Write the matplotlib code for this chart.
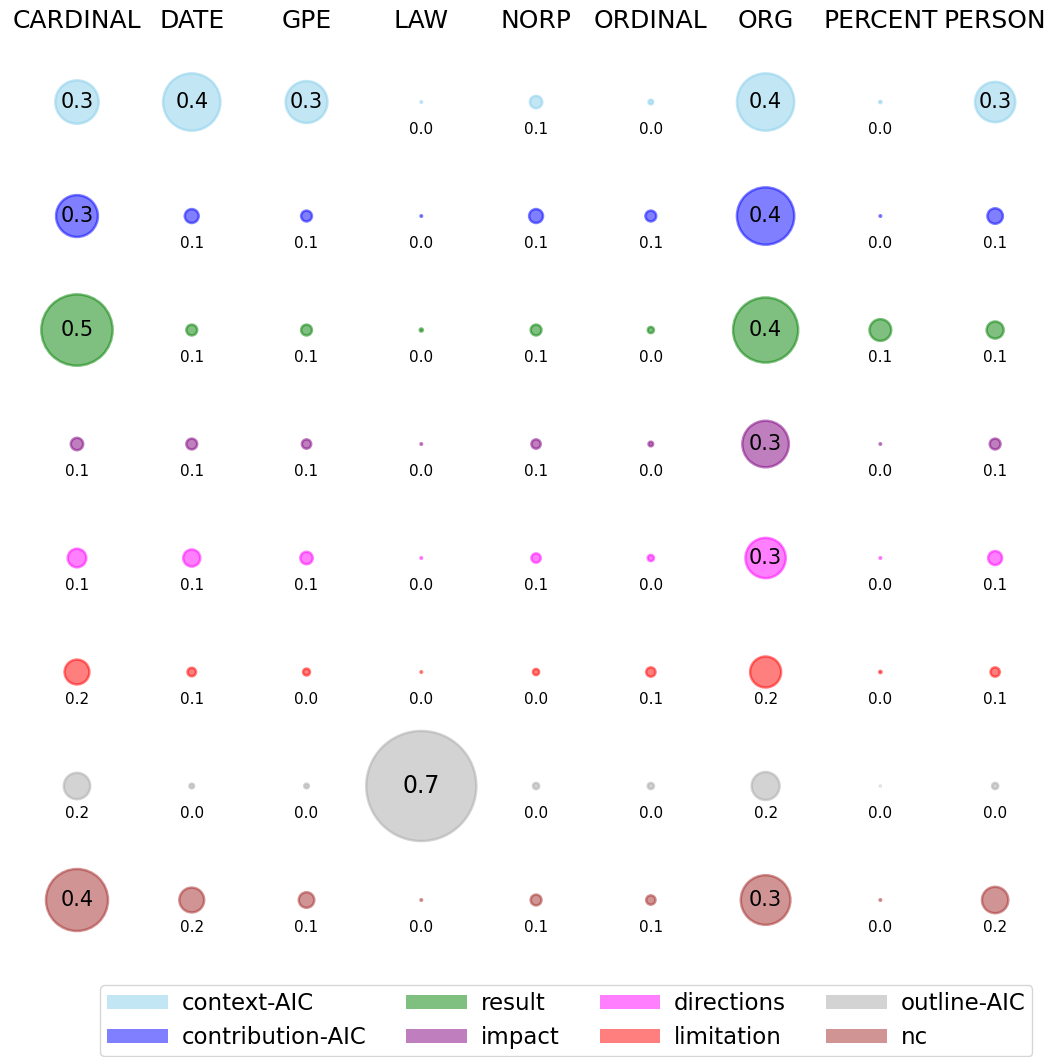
import matplotlib
matplotlib.use("Agg")
import matplotlib.pyplot as plt
import matplotlib.patches as mptch

# entity types (columns)
entities = ["CARDINAL", "DATE", "GPE", "LAW", "NORP", "ORDINAL", "ORG", "PERCENT", "PERSON"]

# section types (rows), with colours
sections = ["context-AIC", "contribution-AIC", "result", "impact",
            "directions", "limitation", "outline-AIC", "nc"]
colors = ["skyblue", "blue", "green", "purple", "magenta", "red", "darkgray", "brown"]

# share of each entity type per section (estimated from the bubbles)
context_aic      = [0.28, 0.37, 0.27, 0.01, 0.08, 0.03, 0.37, 0.015, 0.26]
contribution_aic = [0.27, 0.09, 0.07, 0.01, 0.09, 0.07, 0.37, 0.01, 0.10]
result           = [0.46, 0.07, 0.07, 0.02, 0.07, 0.04, 0.42, 0.14, 0.11]
impact           = [0.08, 0.07, 0.06, 0.01, 0.06, 0.03, 0.30, 0.01, 0.07]
directions       = [0.12, 0.11, 0.08, 0.01, 0.06, 0.04, 0.26, 0.01, 0.09]
limitation       = [0.16, 0.055, 0.045, 0.01, 0.04, 0.06, 0.20, 0.015, 0.06]
outline_aic      = [0.17, 0.03, 0.03, 0.71, 0.04, 0.04, 0.18, 0.005, 0.04]
nc               = [0.40, 0.16, 0.10, 0.01, 0.07, 0.06, 0.32, 0.01, 0.17]

values = [context_aic, contribution_aic, result, impact,
          directions, limitation, outline_aic, nc]

SIZE_K = 111.6  # marker diameter in points for value 1.0

fig = plt.figure(figsize=(10.54, 10.57), dpi=100)
ax = fig.add_axes([0.0186, 0.0946, 0.98, 0.8628])
ax.set_xlim(-0.5, len(entities) - 0.5)
ax.set_ylim(len(sections) - 0.5, -0.5)
ax.axis("off")

for j, (sec, col, row) in enumerate(zip(sections, colors, values)):
    xs = list(range(len(entities)))
    ys = [j] * len(entities)
    sizes = [(v * SIZE_K) ** 2 for v in row]
    ax.scatter(xs, ys, s=sizes, color=col, alpha=0.5, linewidths=1.8, clip_on=False)
    for i, v in enumerate(row):
        lab = f"{v:.1f}"
        if round(v, 1) >= 0.3:
            fs = 17 if v >= 0.6 else 15
            ax.text(i, j, lab, ha="center", va="center", fontsize=fs)
        else:
            ax.text(i, j + 0.245, lab, ha="center", va="center", fontsize=11)

for i, name in enumerate(entities):
    ax.text(i, -0.71, name, ha="center", va="center", fontsize=18, clip_on=False)

handles = [mptch.Patch(facecolor=c, edgecolor="none", alpha=0.5, label=s)
           for s, c in zip(sections, colors)]
fig.legend(handles=handles, loc="upper left", bbox_to_anchor=(100 / 1054, 1 - 985 / 1057),
           borderaxespad=0, ncol=4, fontsize=16.5, handlelength=2.65, handleheight=0.57,
           handletextpad=0.6, borderpad=0.3, columnspacing=1.75, labelspacing=0.5)

fig.savefig("out.png", dpi=100)
